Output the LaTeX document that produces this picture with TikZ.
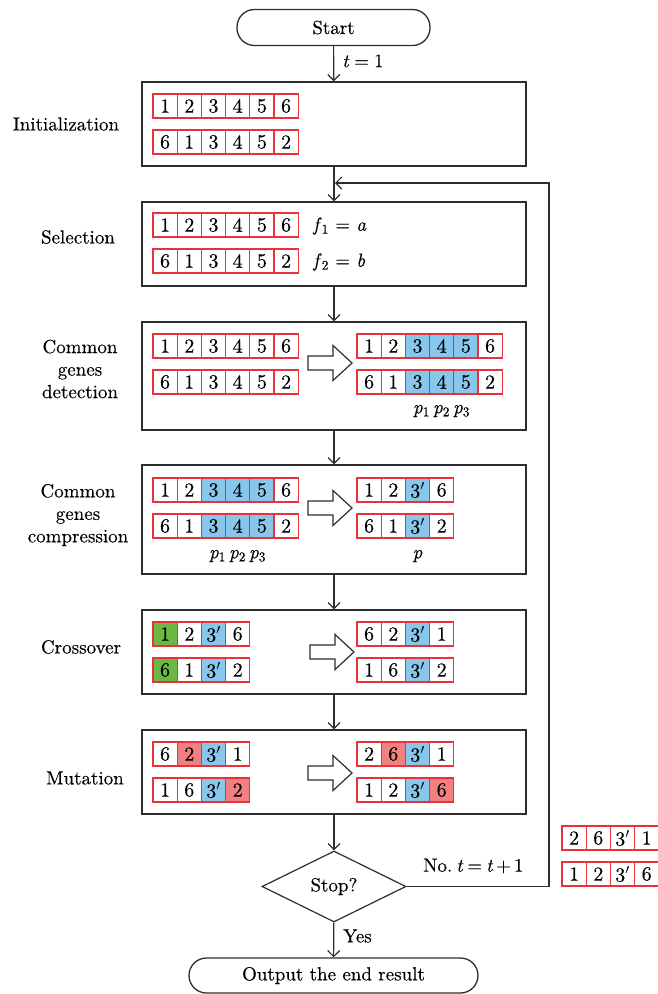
\documentclass[tikz,border=0pt]{standalone}
\usepackage{fontspec}
\setmainfont{lmroman10-regular.otf}[ItalicFont=lmroman10-italic.otf,BoldFont=lmroman10-bold.otf,FakeBold=0.3]
\usetikzlibrary{shapes.geometric,arrows.meta}
\definecolor{cellred}{RGB}{232,50,58}
\definecolor{geneblue}{RGB}{137,198,235}
\definecolor{genegreen}{RGB}{108,184,68}
\definecolor{genepink}{RGB}{241,128,128}
\definecolor{linegray}{RGB}{45,45,45}
\newcommand\generow[4]{\foreach \f/\t [count=\k] in {#4} {\node[cell,fill=\f] (#1-\k) at ({#2+(\k-0.5)*24.2},{#3+12}) {\t};}}
\newcommand\blockarrow[2]{\draw[barrow] ({#1},{#2-7}) -- ({#1+25},{#2-7}) -- ({#1+25},{#2-17.5}) -- ({#1+44},{#2}) -- ({#1+25},{#2+17.5}) -- ({#1+25},{#2+7}) -- ({#1},{#2+7}) -- cycle;}
\tikzset{
  cell/.style={draw=cellred,line width=1.3pt,minimum width=24.2pt,minimum height=24pt,inner sep=0pt,font=\fontsize{20}{22}\selectfont},
  box/.style={draw=linegray,line width=1.3pt,minimum width=384pt,inner sep=0pt},
  term/.style={draw=linegray,line width=1.3pt,rounded corners=17.5pt,inner sep=0pt},
  conn/.style={draw=linegray,line width=1.2pt,-{Straight Barb[length=6pt,width=12pt]}},
  barrow/.style={draw=linegray,line width=1.2pt,fill=white,line join=miter},
  lab/.style={align=center,inner sep=0pt},
}
\begin{document}
\begin{tikzpicture}[x=1pt,y=-1pt,font=\fontsize{19}{22.5}\selectfont]
\useasboundingbox (0,0) rectangle (657,994);
% terminals and boxes
\node[term,minimum width=193pt,minimum height=36pt] (start) at (333.5,27.5) {Start};
\node[box,minimum height=84pt] (init) at (334,124) {};
\node[box,minimum height=84pt] (sel) at (334,244) {};
\node[box,minimum height=108pt] (det) at (334,376) {};
\node[box,minimum height=109pt] (comp) at (334,519.5) {};
\node[box,minimum height=84pt] (cross) at (334,652) {};
\node[box,minimum height=84pt] (mut) at (334,772) {};
\node[diamond,draw=linegray,line width=1.2pt,minimum width=144pt,minimum height=71pt,inner sep=0pt] (stop) at (334,886.5) {Stop?};
\node[term,minimum width=289pt,minimum height=35pt] (out) at (333.5,975.5) {Output the end result};
% left labels
\node[lab] (l1) at (66,124) {Initialization};
\node[lab] (l2) at (78,237) {Selection};
\node[lab] (l3) at (80,369) {Common\\genes\\detection};
\node[lab] (l4) at (78,515) {Common\\genes\\compression};
\node[lab] (l5) at (81,647) {Crossover};
\node[lab] (l6) at (85,778) {Mutation};
% connectors
\draw[conn] (start) -- (init);
\node[anchor=west,inner sep=0pt] (t1) at (342,61) {\textit{t}\kern5pt=\kern5pt1};
\draw[conn] (init) -- (sel);
\draw[conn] (sel) -- (det);
\draw[conn] (det) -- (comp);
\draw[conn] (comp) -- (cross);
\draw[conn] (cross) -- (mut);
\draw[conn] (mut) -- (stop);
\draw[conn] (stop) -- (out);
\node[anchor=west,inner sep=0pt] (yes) at (343,936) {Yes};
\coordinate (loopin) at (335,183);
\draw[conn] (stop.east) -- (549,886.5) -- (549,183) -- (loopin);
\node[anchor=west,inner sep=0pt] (no) at (423,866) {No.\kern4pt\textit{t}\kern4pt=\kern4pt\textit{t}\kern3pt+\kern3pt1};
% initialization
\generow{ia}{153}{94}{white/1,white/2,white/3,white/4,white/5,white/6}
\generow{ib}{153}{130}{white/6,white/1,white/3,white/4,white/5,white/2}
% selection
\generow{sa}{153}{213}{white/1,white/2,white/3,white/4,white/5,white/6}
\generow{sb}{153}{249}{white/6,white/1,white/3,white/4,white/5,white/2}
\node[anchor=west,inner sep=0pt] (f1) at (313,226) {\textit{f}\textsubscript{1} = \textit{a}};
\node[anchor=west,inner sep=0pt] (f2) at (313,262) {\textit{f}\textsubscript{2} = \textit{b}};
% detection
\generow{da}{153}{334}{white/1,white/2,white/3,white/4,white/5,white/6}
\generow{db}{153}{370}{white/6,white/1,white/3,white/4,white/5,white/2}
\blockarrow{308}{363}
\generow{dc}{357}{334}{white/1,white/2,geneblue/3,geneblue/4,geneblue/5,white/6}
\generow{dd}{357}{370}{white/6,white/1,geneblue/3,geneblue/4,geneblue/5,white/2}
\node[inner sep=0pt] (dp) at (441.5,411) {\textit{p}\textsubscript{1}\,\textit{p}\textsubscript{2}\,\textit{p}\textsubscript{3}};
% compression
\generow{ca}{153}{478}{white/1,white/2,geneblue/3,geneblue/4,geneblue/5,white/6}
\generow{cb}{153}{514}{white/6,white/1,geneblue/3,geneblue/4,geneblue/5,white/2}
\node[inner sep=0pt] (cp) at (237.5,556) {\textit{p}\textsubscript{1}\,\textit{p}\textsubscript{2}\,\textit{p}\textsubscript{3}};
\blockarrow{308}{508}
\generow{cc}{357}{478}{white/1,white/2,geneblue/3$'$,white/6}
\generow{cd}{357}{514}{white/6,white/1,geneblue/3$'$,white/2}
\node[inner sep=0pt] (cq) at (417.5,556) {\textit{p}};
% crossover
\generow{xa}{153}{622}{genegreen/1,white/2,geneblue/3$'$,white/6}
\generow{xb}{153}{658}{genegreen/6,white/1,geneblue/3$'$,white/2}
\blockarrow{310}{652}
\generow{xc}{357}{622}{white/6,white/2,geneblue/3$'$,white/1}
\generow{xd}{357}{658}{white/1,white/6,geneblue/3$'$,white/2}
% mutation
\generow{ma}{153}{742}{white/6,genepink/2,geneblue/3$'$,white/1}
\generow{mb}{153}{778}{white/1,white/6,geneblue/3$'$,genepink/2}
\blockarrow{308}{773}
\generow{mc}{357}{742}{white/2,genepink/6,geneblue/3$'$,white/1}
\generow{md}{357}{778}{white/1,white/2,geneblue/3$'$,genepink/6}
% right side
\generow{ra}{562}{826}{white/2,white/6,white/3$'$,white/1}
\generow{rb}{562}{862}{white/1,white/2,white/3$'$,white/6}
\end{tikzpicture}
\end{document}
